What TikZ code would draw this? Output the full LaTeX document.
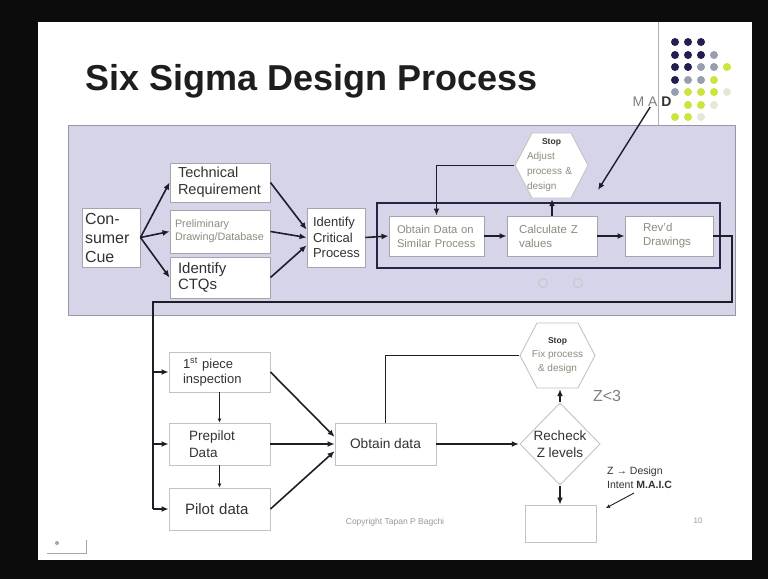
\documentclass[tikz,border=0pt]{standalone}
\usepackage{fontspec}
\setmainfont{Liberation Sans}
\usetikzlibrary{arrows.meta,calc}
\definecolor{bgblack}{RGB}{12,12,12}
\definecolor{lav}{RGB}{214,212,232}
\definecolor{panelb}{RGB}{150,150,165}
\definecolor{boxgray}{RGB}{165,165,170}
\definecolor{lightbox}{RGB}{195,195,195}
\definecolor{linec}{RGB}{30,30,40}
\definecolor{navyf}{RGB}{38,36,70}
\definecolor{txt}{RGB}{50,50,50}
\definecolor{faint}{RGB}{140,140,125}
\definecolor{dnavy}{RGB}{35,30,80}
\definecolor{dgray}{RGB}{150,158,175}
\definecolor{dlime}{RGB}{205,228,60}
\definecolor{dlight}{RGB}{228,232,215}
\newcommand\myfs[2]{\fontsize{#1}{#2}\selectfont}
\begin{document}
\begin{tikzpicture}[x=1pt,y=-1pt,
  bx/.style={draw=boxgray, fill=white, line width=0.9pt, inner ysep=0pt, align=left, text=txt},
  arr/.style={draw=linec, line width=1.6pt, -{Latex[length=7pt,width=6pt]}},
  ln/.style={draw=linec, line width=1.6pt},
  sarr/.style={draw=linec, line width=0.9pt, -{Latex[length=4pt,width=4pt]}},
  hexa/.style={inner sep=0pt, path picture={\draw[draw=lightbox, fill=white, line width=0.9pt]
     ([xshift=1pt]path picture bounding box.west) -- ([xshift=18pt,yshift=-1pt]path picture bounding box.north west)
     -- ([xshift=-18pt,yshift=-1pt]path picture bounding box.north east) -- ([xshift=-1pt]path picture bounding box.east)
     -- ([xshift=-18pt,yshift=1pt]path picture bounding box.south east) -- ([xshift=18pt,yshift=1pt]path picture bounding box.south west) -- cycle;}},
  dia/.style={inner sep=0pt, path picture={\draw[draw=lightbox, fill=white, line width=0.9pt]
     ([xshift=1pt]path picture bounding box.west) -- ([yshift=-1pt]path picture bounding box.north)
     -- ([xshift=-1pt]path picture bounding box.east) -- ([yshift=1pt]path picture bounding box.south) -- cycle;}},
  dt/.style={draw=none, circle, minimum size=8pt, inner sep=0pt}
]
\useasboundingbox (0,0) rectangle (768,579);
\fill[bgblack] (0,0) rectangle (768,579);
\fill[white] (38,22) rectangle (752,560);

% title
\node[anchor=base west, font=\bfseries\myfs{36}{40}, text={rgb,255:red,30;green,30;blue,30}, inner sep=0pt] (title) at (85,90) {Six Sigma Design Process};

% decoration line and dots
\draw[gray!60, line width=0.8pt] (658,22) -- (658,125);
\foreach \x/\y in {675/42,688/42,701/42,675/55,688/55,701/55,675/67,688/67,675/80}
  \fill[dnavy] (\x,\y) circle (4pt);
\foreach \x/\y in {714/55,701/67,714/67,688/80,701/80,675/92}
  \fill[dgray] (\x,\y) circle (4pt);
\foreach \x/\y in {727/67,714/80,688/92,701/92,714/92,688/105,701/105,675/117,688/117}
  \fill[dlime] (\x,\y) circle (4pt);
\foreach \x/\y in {727/92,714/105,701/117}
  \fill[dlight] (\x,\y) circle (4pt);

% panel
\fill[lav, draw=panelb, line width=0.8pt] (68,125) rectangle (735,315);
\draw[navyf, line width=2.5pt] (377,203) rectangle (720,268);

\node[font=\myfs{14}{16}, text=gray, inner sep=0pt] (mad) at (652,102) {M A \textbf{\color{txt}D}};
\coordinate (madtip) at (598,190);

% panel nodes
\node[bx, font=\myfs{16}{19}, inner xsep=3pt, text width=52pt, minimum height=59pt] (cue) at (111,237.5) {Con-\\sumer\\Cue};
\node[bx, font=\myfs{14.5}{17}, inner xsep=8pt, text width=84pt, minimum height=39pt] (tech) at (220,182.5) {Technical\\Requirement};
\node[bx, font=\myfs{10.8}{13}, text=faint, inner xsep=5pt, text width=90pt, minimum height=43pt] (prelim) at (220,231.5) {Preliminary\\Drawing/Database};
\node[bx, font=\myfs{15}{16}, inner xsep=8pt, text width=84pt, minimum height=41pt] (ctq) at (220,277.5) {Identify\\CTQs};
\node[bx, font=\myfs{13}{15.5}, inner xsep=6pt, text width=46pt, minimum height=59pt] (crit) at (336,237.5) {Identify\\Critical\\Process};
\node[bx, font=\myfs{11.2}{14}, text=faint, inner xsep=8pt, text width=79pt, minimum height=40pt] (obt1) at (436.5,236) {Obtain Data on\\Similar Process};
\node[bx, font=\myfs{11.5}{14}, text=faint, inner xsep=12pt, text width=66pt, minimum height=40pt] (calc) at (552,236) {Calculate Z\\values};
\node[bx, font=\myfs{11.5}{14}, text=faint, inner xsep=18pt, text width=52pt, minimum height=40pt] (rev) at (669,236) {Rev'd\\Drawings};
\node[hexa, minimum width=75pt, minimum height=67pt, text width=49pt, align=left, font=\myfs{10}{15}, text=faint] (stop1) at (551.5,165.5)
  {\makebox[49pt]{\color{txt}\bfseries\myfs{8.5}{10}Stop}\\Adjust\\process \&\\design};

% small cursor marks
\draw[gray!45, line width=0.9pt] (543,283) circle (4.5pt);
\draw[gray!45, line width=0.9pt] (578,283) circle (4.5pt);

% panel connectors
\draw[arr] (cue.east) -- (tech.west);
\draw[arr] (cue.east) -- (prelim.west);
\draw[arr] (cue.east) -- (ctq.west);
\draw[arr] (tech.east) -- (crit.165);
\draw[arr] (prelim.east) -- (crit.west);
\draw[arr] (ctq.east) -- (crit.195);
\draw[arr] (crit.east) -- (obt1.west);
\draw[arr] (obt1.east) -- (calc.west);
\draw[arr] (calc.east) -- (rev.west);
\draw[arr] (calc.north) -- (calc.north |- stop1.south);
\draw[arr] (stop1.west) -| (obt1.north);
\draw[arr, line width=1.4pt] (mad.250) -- (madtip);

% bottom nodes
\node[bx, draw=lightbox, font=\myfs{13}{15}, inner xsep=14pt, text width=73pt, minimum height=40pt] (first) at (219.5,372) {1\textsuperscript{st} piece\\inspection};
\node[bx, draw=lightbox, font=\myfs{13.5}{17}, inner xsep=20pt, text width=61pt, minimum height=42pt] (prep) at (219.5,444) {Prepilot\\Data};
\node[bx, draw=lightbox, font=\myfs{15}{17}, inner xsep=16pt, text width=69pt, minimum height=42pt] (pilot) at (219.5,509) {Pilot data};
\node[bx, draw=lightbox, font=\myfs{13.7}{16}, inner xsep=0pt, minimum width=101pt, minimum height=42pt] (obtain) at (385.5,444) {Obtain data};
\node[hexa, minimum width=77pt, minimum height=67pt, align=center, font=\myfs{10}{14}, text=faint] (stop2) at (557.5,355.5)
  {{\color{txt}\bfseries\myfs{8.5}{10}Stop}\\Fix process\\\& design};
\node[dia, minimum width=82pt, minimum height=84pt, align=center, font=\myfs{13.5}{17}, text=txt] (dia) at (560,444) {Recheck\\Z levels};
\node[bx, draw=lightbox, minimum width=71pt, minimum height=37pt] (fin) at (560.5,523.5) {};

\coordinate (ra) at (732,302);
\coordinate (la) at (153,302);
\coordinate (ntip) at (606,508);

% bottom connectors
\draw[ln] (rev.east) -| (ra) -- (la) -- (la |- pilot.west);
\draw[arr] (la |- first.west) -- (first.west);
\draw[arr] (la |- prep.west) -- (prep.west);
\draw[arr] (la |- pilot.west) -- (pilot.west);
\draw[sarr] (first.south) -- (prep.north);
\draw[sarr] (prep.south) -- (pilot.north);
\draw[arr] (first.east) -- (obtain.172);
\draw[arr] (prep.east) -- (obtain.west);
\draw[arr] (pilot.east) -- (obtain.188);
\draw[ln] (obtain.north) |- (stop2.west);
\draw[arr] (obtain.east) -- (dia.west);
\draw[arr] (dia.north) -- (dia.north |- stop2.south);
\draw[arr] (dia.south) -- (dia.south |- fin.north);

% labels
\node[font=\myfs{16}{18}, text=gray, inner sep=0pt] (z3) at (607,396) {Z<3};
\node[anchor=west, align=left, font=\myfs{10.5}{14}, text=txt, inner sep=0pt] (note) at (607,478) {Z → Design\\Intent \textbf{M.A.I.C}};
\draw[sarr] ($(note.south west)+(27,4)$) -- (ntip);
\node[font=\myfs{8.5}{10}, text=gray!80, inner sep=0pt] (copy) at (395,522) {Copyright Tapan P Bagchi};
\node[font=\myfs{8}{10}, text=gray!80, inner sep=0pt] (pg) at (698,521) {10};

% nav icon bottom-left
\fill[gray!70] (57,543) circle (2pt);
\draw[gray!70, line width=0.9pt] (47,553) -- (86,553) -- (86,540);
\end{tikzpicture}
\end{document}
